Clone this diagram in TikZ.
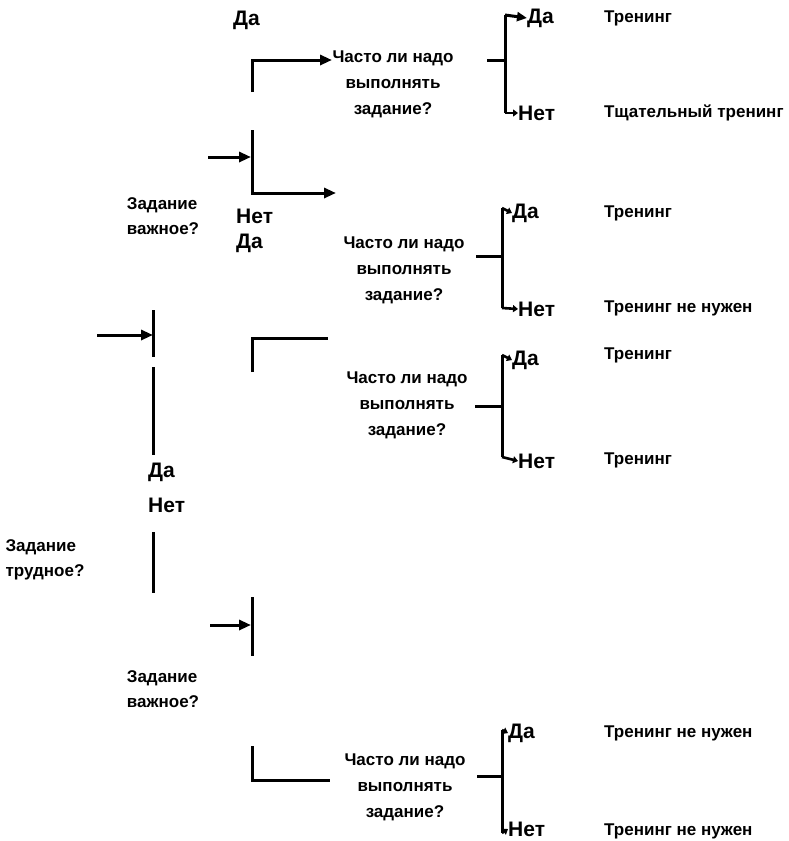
\documentclass[tikz,border=0pt]{standalone}
\usepackage{fontspec}
\setmainfont{Liberation Sans}
\usetikzlibrary{arrows.meta}
\begin{document}
\begin{tikzpicture}[x=1pt,y=-1pt,
  wire/.style={line width=3pt},
  bigtip/.style={wire,-{Triangle[length=12pt,width=10pt]}},
  smalltip/.style={line width=2.6pt,-{Triangle[length=5pt,width=7pt]}},
  quest/.style={font=\bfseries\fontsize{17}{26}\selectfont, align=center, inner sep=0pt},
  cond/.style={font=\bfseries\fontsize{17}{24.5}\selectfont, align=left, inner sep=0pt},
  ans/.style={font=\bfseries\fontsize{21}{24}\selectfont, inner sep=0pt, anchor=west},
  res/.style={font=\bfseries\fontsize{17}{20}\selectfont, inner sep=0pt, anchor=west}]
\useasboundingbox (0,0) rectangle (788,841);

% --- question texts ---
\node[cond] (hard) at (45,560) {Задание\\трудное?};
\node[cond] (imp1) at (163,216) {Задание\\важное?};
\node[cond] (imp2) at (163,689) {Задание\\важное?};
\node[quest] (q1) at (393,84) {Часто ли надо\\выполнять\\задание?};
\node[quest] (q2) at (404,270) {Часто ли надо\\выполнять\\задание?};
\node[quest] (q3) at (407,405) {Часто ли надо\\выполнять\\задание?};
\node[quest] (q4) at (405,787) {Часто ли надо\\выполнять\\задание?};

% --- yes / no labels on the left branches ---
\node[ans] (y0) at (233,20) {Да};
\node[ans] (n0) at (236,216) {Нет};
\node[ans] (y1) at (236,243) {Да};
\node[ans] (y2) at (148,472) {Да};
\node[ans] (n2) at (148,505) {Нет};

% --- yes / no labels at the right brackets ---
\node[ans] (a1y) at (527,18) {Да};
\node[ans] (a1n) at (518,113) {Нет};
\node[ans] (a2y) at (512,213) {Да};
\node[ans] (a2n) at (518,309) {Нет};
\node[ans] (a3y) at (512,360) {Да};
\node[ans] (a3n) at (518,461) {Нет};
\node[ans] (a4y) at (508,733) {Да};
\node[ans] (a4n) at (508,829) {Нет};

% --- outcomes ---
\node[res] (r1) at (604,18) {Тренинг};
\node[res] (r2) at (604,113) {Тщательный тренинг};
\node[res] (r3) at (604,213) {Тренинг};
\node[res] (r4) at (604,308) {Тренинг не нужен};
\node[res] (r5) at (604,355) {Тренинг};
\node[res] (r6) at (604,460) {Тренинг};
\node[res] (r7) at (604,733) {Тренинг не нужен};
\node[res] (r8) at (604,831) {Тренинг не нужен};

% --- left branch (task difficult?) ---
\coordinate (m0) at (97,335);
\coordinate (m1) at (153,335);
\coordinate (m1t) at (153,310);
\coordinate (m1b) at (153,357);
\coordinate (m2t) at (153,367);
\coordinate (m2b) at (153,455);
\coordinate (m3t) at (153,532);
\coordinate (m3b) at (153,593);
\draw[bigtip] (m0) -- (m1);
\draw[wire] (m1t) -- (m1b);
\draw[wire] (m2t) -- (m2b);
\draw[wire] (m3t) -- (m3b);

% --- upper "important?" fork ---
\coordinate (u0) at (208,157);
\coordinate (u1) at (251,157);
\coordinate (ua) at (252,92);
\coordinate (ub) at (252,60);
\coordinate (uc) at (332,60);
\coordinate (ud) at (252,130);
\coordinate (ue) at (252,193);
\coordinate (uf) at (336,193);
\draw[bigtip] (u0) -- (u1);
\draw[bigtip] (ua) -- (ub) -- (uc);
\draw[bigtip] (ud) -- (ue) -- (uf);

% --- middle corner ---
\coordinate (mc0) at (252,372);
\coordinate (mc1) at (252,338);
\coordinate (mc2) at (328,338);
\draw[wire] (mc0) -- (mc1) -- (mc2);

% --- lower "important?" fork ---
\coordinate (l0) at (210,625);
\coordinate (l1) at (251,625);
\coordinate (lt) at (252,597);
\coordinate (lb) at (252,656);
\draw[bigtip] (l0) -- (l1);
\draw[wire] (lt) -- (lb);

% --- bottom corner ---
\coordinate (bc0) at (252,746);
\coordinate (bc1) at (252,780);
\coordinate (bc2) at (330,780);
\draw[wire] (bc0) -- (bc1) -- (bc2);

% --- right brackets ---
% bracket 1
\coordinate (s1a) at (487,60);
\coordinate (s1b) at (505,60);
\coordinate (v1t) at (505,15);
\coordinate (v1b) at (505,113);
\draw[wire] (s1a) -- (s1b);
\draw[wire] (v1t) -- (v1b);
\draw[wire,-{Triangle[length=10pt,width=9pt]}] (v1t) -- (a1y.west);
\draw[smalltip] (v1b) -- (a1n.west);
% bracket 2
\coordinate (s2a) at (476,256);
\coordinate (s2b) at (502,256);
\coordinate (v2t) at (502,208);
\coordinate (v2b) at (502,308);
\draw[wire] (s2a) -- (s2b);
\draw[wire] (v2t) -- (v2b);
\draw[smalltip] (v2t) -- (a2y.west);
\draw[smalltip] (v2b) -- (a2n.west);
% bracket 3
\coordinate (s3a) at (475,406);
\coordinate (s3b) at (502,406);
\coordinate (v3t) at (502,355);
\coordinate (v3b) at (502,457);
\draw[wire] (s3a) -- (s3b);
\draw[wire] (v3t) -- (v3b);
\draw[smalltip] (v3t) -- (a3y.west);
\draw[smalltip] (v3b) -- (a3n.west);
% bracket 4
\coordinate (s4a) at (477,776);
\coordinate (s4b) at (502,776);
\coordinate (v4t) at (502,730);
\coordinate (v4b) at (502,833);
\draw[wire] (s4a) -- (s4b);
\draw[wire] (v4t) -- (v4b);
\draw[smalltip] (v4t) -- (a4y.west);
\draw[smalltip] (v4b) -- (a4n.west);
\end{tikzpicture}
\end{document}
